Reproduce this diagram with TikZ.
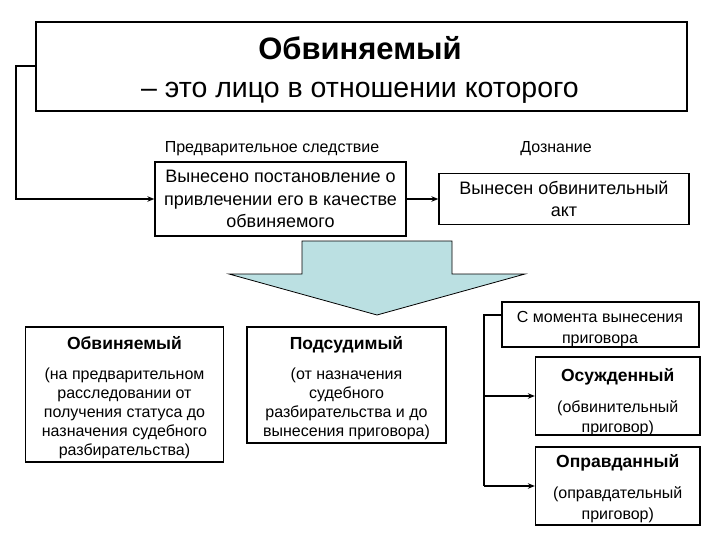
\documentclass[tikz,border=0pt]{standalone}
\usepackage{fontspec}
\setmainfont{Liberation Sans}
\usetikzlibrary{arrows.meta}
\definecolor{arrowblue}{RGB}{187,224,226}
\tikzset{
  box/.style={draw=black, line width=1.3pt, fill=white, inner sep=0pt, align=center, anchor=center},
  conn/.style={draw=black, line width=2pt, -{Stealth[length=7pt,width=5.5pt]}},
  plainline/.style={draw=black, line width=2pt},
  bodytxt/.style={font=\fontsize{18}{22.5}\selectfont},
  smalltxt/.style={font=\fontsize{16}{19}\selectfont},
  txt/.style={align=center, inner sep=0pt},
}
\newcommand{\ttlfont}{\fontsize{17.5}{20}\selectfont\bfseries}
\begin{document}
\begin{tikzpicture}[x=1pt,y=-1pt]
\useasboundingbox (0,0) rectangle (720,540);
% top box
\node[box, minimum width=651pt, minimum height=89pt] (top) at (361.5,66.5) {};
\node[font=\fontsize{31}{36}\selectfont\bfseries] (title) at (360,48) {Обвиняемый};
\node[font=\fontsize{28.5}{34}\selectfont] (sub) at (360,93) {– это лицо в отношении которого};
% labels
\node[smalltxt] (lab1) at (272,149) {Предварительное следствие};
\node[smalltxt] (lab2) at (556,149) {Дознание};
% box1, box2
\node[box, bodytxt, minimum width=251pt, minimum height=74pt] (b1) at (280.5,199)
  {Вынесено постановление о\\привлечении его в качестве\\обвиняемого};
\node[box, bodytxt, minimum width=250pt, minimum height=51pt] (b2) at (564,199)
  {Вынесен обвинительный\\акт};
\draw[conn] (top.west) -- ++(-19,0) |- (b1.west);
\draw[conn] (b1.east) -- (b2.west);
% big arrow
\draw[fill=arrowblue, draw=black, line width=0.8pt]
  (302,241) -- (452,241) -- (452,274) -- (525,274) -- (377,315) -- (229,274) -- (302,274) -- cycle;
% lower left boxes
\node[box, minimum width=198pt, minimum height=135pt] (l1) at (124.5,394.5) {};
\node[txt, font=\fontsize{16}{19}\selectfont] (l1t) at (124.5,398)
  {{\ttlfont Обвиняемый}\\[11pt](на предварительном\\расследовании от\\получения статуса до\\назначения судебного\\разбирательства)};
\node[box, minimum width=199pt, minimum height=116pt] (l2) at (346.5,385) {};
\node[txt, font=\fontsize{16}{19}\selectfont] (l2t) at (346.5,388)
  {{\ttlfont Подсудимый}\\[11pt](от назначения\\судебного\\разбирательства и до\\вынесения приговора)};
% right boxes
\node[box, minimum width=197pt, minimum height=45pt] (r0) at (600.5,324.5) {};
\node[txt, font=\fontsize{16}{20.5}\selectfont] (r0t) at (600,329) {С момента вынесения\\приговора};
\node[box, minimum width=164.5pt, minimum height=78pt] (r1) at (617.75,396) {};
\node[txt, font=\fontsize{16}{20}\selectfont] (r1t) at (617.75,402)
  {{\ttlfont Осужденный}\\[11pt](обвинительный\\приговор)};
\node[box, minimum width=164.5pt, minimum height=78pt] (r2) at (617.75,486) {};
\node[txt, font=\fontsize{16}{21}\selectfont] (r2t) at (617.75,489)
  {{\ttlfont Оправданный}\\[10pt](оправдательный\\приговор)};
\coordinate (jt) at (484,315);
\coordinate (jm) at (484,396);
\coordinate (jb) at (484,486);
\draw[plainline] (r0.west |- jt) -- (jt) -- (jb);
\draw[conn] (jm) -- (r1.west);
\draw[conn] (jb) -- (r2.west);
\end{tikzpicture}
\end{document}
